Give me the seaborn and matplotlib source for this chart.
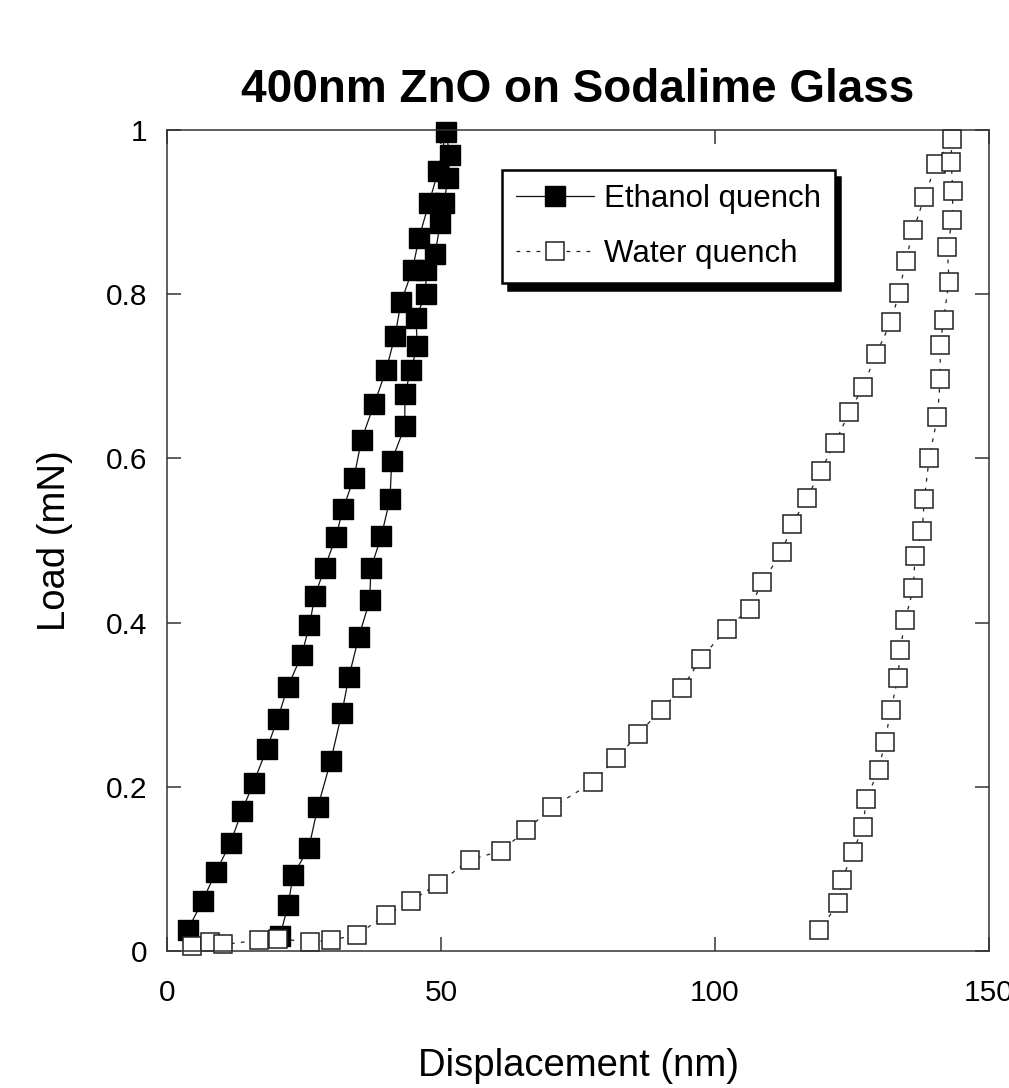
import matplotlib
matplotlib.use("Agg")
import matplotlib.pyplot as plt
import seaborn as sns
import pandas as pd

# Ethanol-quenched film: loading branch followed by unloading branch
ethanol_disp = [3.8, 6.5, 8.9, 11.6, 13.7, 15.8, 18.2, 20.2, 22.0, 24.6, 26.0, 27.0, 28.8,
                30.8, 32.1, 34.1, 35.5, 37.8, 40.0, 41.6, 42.7, 44.8, 46.0, 47.8, 49.5, 50.9,
                51.6, 51.3, 50.5, 49.9, 48.9, 47.3, 47.2, 45.4, 45.7, 44.5, 43.4, 43.4, 41.0,
                40.7, 39.1, 37.2, 37.0, 35.0, 33.2, 31.9, 29.9, 27.5, 25.9, 23.0, 22.1, 20.6]
ethanol_load = [0.026, 0.061, 0.096, 0.132, 0.171, 0.205, 0.246, 0.283, 0.321, 0.361, 0.397,
                0.433, 0.467, 0.504, 0.538, 0.576, 0.623, 0.666, 0.708, 0.749, 0.790, 0.830,
                0.869, 0.911, 0.950, 0.997,
                0.970, 0.941, 0.911, 0.887, 0.849, 0.830, 0.800, 0.771, 0.737, 0.708, 0.678,
                0.639, 0.597, 0.551, 0.505, 0.466, 0.427, 0.383, 0.334, 0.290, 0.232, 0.175,
                0.126, 0.092, 0.056, 0.018]

# Water-quenched film: loading branch followed by unloading branch
water_disp = [4.5, 7.8, 10.3, 16.8, 20.2, 26.1, 29.9, 34.7, 40.0, 44.6, 49.4, 55.3, 61.0,
              65.5, 70.3, 77.8, 82.0, 86.0, 90.1, 94.0, 97.4, 102.1, 106.3, 108.6, 112.2,
              114.1, 116.8, 119.3, 121.9, 124.5, 127.0, 129.4, 132.1, 133.6, 134.8, 136.2,
              138.2, 140.3, 143.2,
              143.1, 143.4, 143.3, 142.4, 142.7, 141.7, 141.1, 141.1, 140.6, 139.1, 138.2,
              137.8, 136.5, 136.2, 134.7, 133.8, 133.4, 132.1, 131.0, 129.9, 127.6, 127.0,
              125.2, 123.2, 122.5, 119.0]
water_load = [0.006, 0.011, 0.008, 0.013, 0.015, 0.011, 0.013, 0.020, 0.044, 0.061, 0.082,
              0.111, 0.122, 0.147, 0.175, 0.206, 0.235, 0.264, 0.294, 0.320, 0.356, 0.392,
              0.417, 0.449, 0.486, 0.520, 0.552, 0.585, 0.619, 0.656, 0.687, 0.727, 0.766,
              0.802, 0.841, 0.878, 0.918, 0.958, 0.989,
              0.961, 0.926, 0.890, 0.858, 0.815, 0.769, 0.738, 0.697, 0.651, 0.601, 0.551,
              0.511, 0.481, 0.442, 0.403, 0.367, 0.333, 0.294, 0.255, 0.221, 0.185, 0.151,
              0.121, 0.087, 0.058, 0.025]

series_names = ["Ethanol quench", "Water quench"]
x_ticks = [0, 50, 100, 150]
y_ticks = [0, 0.2, 0.4, 0.6, 0.8, 1.0]
y_tick_labels = ["0", "0.2", "0.4", "0.6", "0.8", "1"]

sns.set_style("ticks")
plt.rcParams["font.family"] = ["Liberation Sans", "DejaVu Sans"]
plt.rcParams["text.color"] = "black"
plt.rcParams["axes.labelcolor"] = "black"
plt.rcParams["axes.titlecolor"] = "black"

fig = plt.figure(figsize=(10.09, 10.88), dpi=100)
ax = fig.add_axes([167 / 1009, 1 - 951 / 1088, (989 - 167) / 1009, (951 - 130) / 1088])

eth = pd.DataFrame({"disp": ethanol_disp, "load": ethanol_load})
wat = pd.DataFrame({"disp": water_disp, "load": water_load})

sns.lineplot(data=eth, x="disp", y="load", sort=False, estimator=None, ax=ax,
             color="#111111", linewidth=0.9, marker="s", markersize=13.8,
             markerfacecolor="black", markeredgecolor="black", markeredgewidth=1.0,
             clip_on=False, label=series_names[0])
sns.lineplot(data=wat, x="disp", y="load", sort=False, estimator=None, ax=ax,
             color="#222222", linewidth=0.9, linestyle=(0, (3, 5)), marker="s",
             markersize=13.0, markerfacecolor="white", markeredgecolor="#222222",
             markeredgewidth=1.1, clip_on=False, label=series_names[1])

ax.set_xlim(0, 150)
ax.set_ylim(0, 1)
ax.set_xticks(x_ticks)
ax.set_xticklabels([str(t) for t in x_ticks])
ax.set_yticks(y_ticks)
ax.set_yticklabels(y_tick_labels)

for side in ["left", "right", "top", "bottom"]:
    ax.spines[side].set_visible(True)
    ax.spines[side].set_color("#333333")
    ax.spines[side].set_linewidth(1.1)
ax.tick_params(axis="both", direction="in", length=10, width=1.1, color="#333333",
               top=True, right=True, labelsize=21.5, labelcolor="black")
ax.tick_params(axis="x", pad=20)
ax.tick_params(axis="y", pad=14)

ax.set_xlabel("Displacement (nm)", fontsize=27.5, labelpad=30)
ax.set_ylabel("Load (mN)", fontsize=27.5, labelpad=24)
ax.set_title("400nm ZnO on Sodalime Glass", fontsize=33, fontweight="bold", pad=20)

leg = ax.legend(loc="upper left", bbox_to_anchor=(502 / 1009, 1 - 170 / 1088),
                bbox_transform=fig.transFigure, borderaxespad=0, fontsize=22.5,
                frameon=True, fancybox=False, framealpha=1, edgecolor="black",
                handlelength=2.5, handletextpad=0.3, borderpad=0.45, labelspacing=0.8,
                shadow={"ox": 4, "oy": -5, "color": "black", "alpha": 1})
leg.get_frame().set_linewidth(1.8)
for txt in leg.get_texts():
    txt.set_color("black")

fig.savefig("out.png", dpi=100)
